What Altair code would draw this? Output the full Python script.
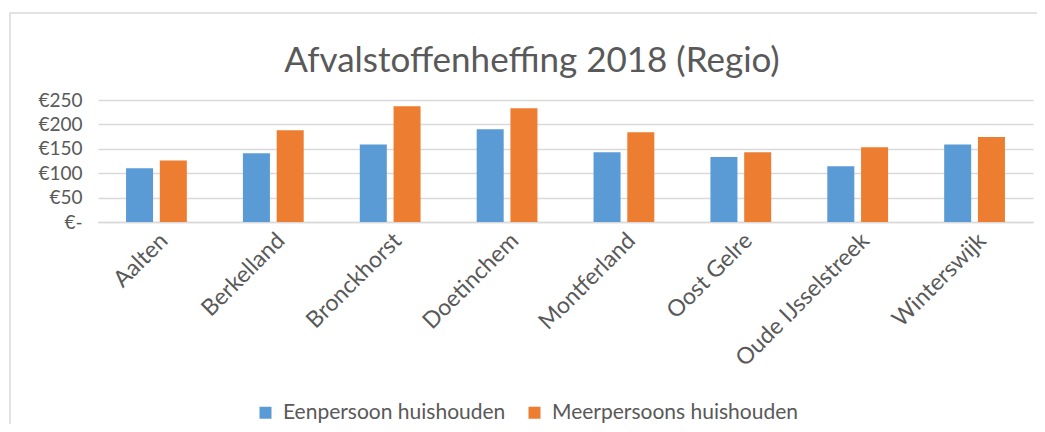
import altair as alt
import pandas as pd

gemeenten = ["Aalten", "Berkelland", "Bronckhorst", "Doetinchem", "Montferland",
             "Oost Gelre", "Oude IJsselstreek", "Winterswijk"]
eenpersoon = [110, 141, 159, 190, 143, 133, 114, 159]
meerpersoons = [126, 188, 237, 233, 184, 143, 153, 174]
series = ["Eenpersoon huishouden", "Meerpersoons huishouden"]
colors = ["#5b9bd5", "#ed7d31"]
title_text = ["Afvalstoffenheffing 2018 (Regio)"]

rows = []
for g, a, b in zip(gemeenten, eenpersoon, meerpersoons):
    rows.append({"gemeente": g, "type": series[0], "waarde": a})
    rows.append({"gemeente": g, "type": series[1], "waarde": b})
df = pd.DataFrame(rows)

FONT = "Lato"
GREY = "#595959"

bars = alt.Chart(df).mark_bar().encode(
    x=alt.X("gemeente:N", sort=gemeenten, title=None,
            scale=alt.Scale(paddingInner=0.48, paddingOuter=0.24),
            axis=alt.Axis(labelAngle=-45, labelFontSize=23, labelColor=GREY,
                          labelFont=FONT, ticks=False, domain=True,
                          domainColor="#d9d9d9", domainWidth=1.5, labelPadding=7,
                          labelLimit=0)),
    xOffset=alt.XOffset("type:N", sort=series,
                        scale=alt.Scale(paddingInner=0.2, paddingOuter=0)),
    y=alt.Y("waarde:Q", title=None,
            scale=alt.Scale(domain=[0, 250], nice=False),
            axis=alt.Axis(values=[0, 50, 100, 150, 200, 250],
                          labelExpr="datum.value == 0 ? '€-' : '€' + datum.value",
                          labelFontSize=19, labelColor=GREY, labelFont=FONT,
                          ticks=False, domain=False, labelPadding=16,
                          gridColor="#d9d9d9", gridWidth=1.5)),
    color=alt.Color("type:N", sort=series,
                    scale=alt.Scale(domain=series, range=colors),
                    legend=alt.Legend(title=None, orient="none", direction="horizontal",
                                      legendX=157, legendY=302, symbolType="square",
                                      symbolSize=144, symbolStrokeWidth=0,
                                      labelFontSize=21, labelColor=GREY, labelFont=FONT,
                                      labelLimit=0, columnPadding=18, labelOffset=7)),
)

frame = alt.Chart(pd.DataFrame({"f": [0]})).mark_rect(
    fill=None, stroke="#d9d9d9", strokeWidth=1.5
).encode(x=alt.value(-88), x2=alt.value(960), y=alt.value(-87), y2=alt.value(340))

title = alt.Chart(pd.DataFrame({"t": title_text})).mark_text(
    font=FONT, fontSize=35, color=GREY, align="center", baseline="alphabetic"
).encode(text="t:N", x=alt.value(434), y=alt.value(-28))

chart = alt.layer(frame, bars, title).properties(
    width=935, height=122,
    autosize=alt.AutoSizeParams(type="none"),
    padding={"left": 90, "top": 92, "right": 4, "bottom": 202},
).configure_view(stroke=None)

chart.save("out.html", embed_options={"renderer": "svg", "actions": False})
